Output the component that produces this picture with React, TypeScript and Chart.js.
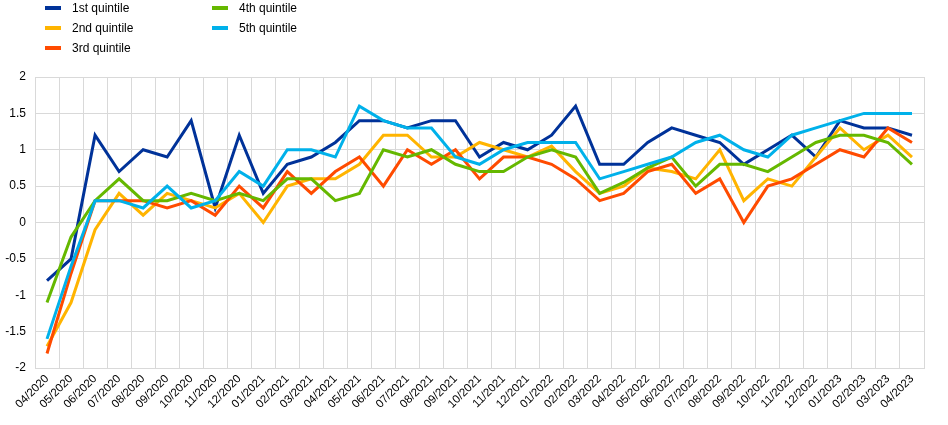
import React, { useEffect, useRef } from "react";
import { Chart, registerables } from "chart.js";

Chart.register(...registerables);

const months = [
  "04/2020","05/2020","06/2020","07/2020","08/2020","09/2020","10/2020","11/2020","12/2020",
  "01/2021","02/2021","03/2021","04/2021","05/2021","06/2021","07/2021","08/2021","09/2021","10/2021","11/2021","12/2021",
  "01/2022","02/2022","03/2022","04/2022","05/2022","06/2022","07/2022","08/2022","09/2022","10/2022","11/2022","12/2022",
  "01/2023","02/2023","03/2023","04/2023",
];

const q1 = [-0.8,-0.5,1.2,0.7,1.0,0.9,1.4,0.2,1.2,0.4,0.8,0.9,1.1,1.4,1.4,1.3,1.4,1.4,0.9,1.1,1.0,1.2,1.6,0.8,0.8,1.1,1.3,1.2,1.1,0.8,1.0,1.2,0.9,1.4,1.3,1.3,1.2];
const q2 = [-1.7,-1.1,-0.1,0.4,0.1,0.4,0.3,0.2,0.4,0.0,0.5,0.6,0.6,0.8,1.2,1.2,0.9,0.9,1.1,1.0,0.9,1.05,0.7,0.4,0.5,0.75,0.7,0.6,1.0,0.3,0.6,0.5,0.9,1.3,1.0,1.2,0.9];
const q3 = [-1.8,-0.7,0.3,0.3,0.3,0.2,0.3,0.1,0.5,0.2,0.7,0.4,0.7,0.9,0.5,1.0,0.8,1.0,0.6,0.9,0.9,0.8,0.6,0.3,0.4,0.7,0.8,0.4,0.6,0.0,0.5,0.6,0.8,1.0,0.9,1.3,1.1];
const q4 = [-1.1,-0.2,0.3,0.6,0.3,0.3,0.4,0.3,0.4,0.3,0.6,0.6,0.3,0.4,1.0,0.9,1.0,0.8,0.7,0.7,0.9,1.0,0.9,0.4,0.55,0.75,0.9,0.5,0.8,0.8,0.7,0.9,1.1,1.2,1.2,1.1,0.8];
const q5 = [-1.6,-0.6,0.3,0.3,0.2,0.5,0.2,0.3,0.7,0.5,1.0,1.0,0.9,1.6,1.4,1.3,1.3,0.9,0.8,1.0,1.1,1.1,1.1,0.6,0.7,0.8,0.9,1.1,1.2,1.0,0.9,1.2,1.3,1.4,1.5,1.5,1.5];

const seriesNames = ["1st quintile", "2nd quintile", "3rd quintile", "4th quintile", "5th quintile"];
const seriesColors = ["#003299", "#FFB400", "#FF4B00", "#65B800", "#00B1EA"];
const seriesData = [q1, q2, q3, q4, q5];

const FONT = "'Liberation Sans', Arial, sans-serif";

export default function App() {
  const canvasRef = useRef<HTMLCanvasElement | null>(null);

  useEffect(() => {
    if (!canvasRef.current) return;
    const chart = new Chart(canvasRef.current, {
      type: "line",
      data: {
        labels: months,
        datasets: seriesData.map((d, i) => ({
          label: seriesNames[i],
          data: d,
          borderColor: seriesColors[i],
          backgroundColor: seriesColors[i],
          borderWidth: 3,
          pointRadius: 0,
          tension: 0,
          fill: false,
          order: 5 - i,
        })),
      },
      options: {
        animation: false,
        responsive: true,
        maintainAspectRatio: false,
        layout: { padding: { top: 77, right: 24, left: 0, bottom: 0 } },
        plugins: {
          legend: { display: false },
          tooltip: { enabled: false },
        },
        scales: {
          x: {
            type: "category",
            offset: true,
            grid: { offset: true, color: "#d9d9d9", drawTicks: false, lineWidth: 1 },
            border: { color: "#d9d9d9" },
            ticks: {
              autoSkip: false,
              minRotation: 45,
              maxRotation: 45,
              padding: 4,
              color: "#000",
              font: { family: FONT, size: 11.5 },
            },
            afterFit: (s: any) => { s.height = 57; },
          },
          y: {
            min: -2,
            max: 2,
            grid: { color: "#d9d9d9", drawTicks: false, lineWidth: 1 },
            border: { color: "#d9d9d9" },
            ticks: {
              stepSize: 0.5,
              padding: 9,
              color: "#000",
              font: { family: FONT, size: 12 },
              callback: (v: any) => String(Math.round(Number(v) * 10) / 10),
            },
            afterFit: (s: any) => { s.width = 35; },
          },
        },
      },
    });
    return () => chart.destroy();
  }, []);

  const legendItem = (i: number, left: number, top: number) => (
    <div key={i} style={{ position: "absolute", left, top, height: 16, display: "flex", alignItems: "center" }}>
      <div style={{ width: 16, height: 4, background: seriesColors[i] }} />
      <span style={{ marginLeft: 11, fontFamily: FONT, fontSize: 12, color: "#000", whiteSpace: "nowrap" }}>
        {seriesNames[i]}
      </span>
    </div>
  );

  return (
    <div style={{ position: "fixed", left: 0, top: 0, width: 948, height: 425, background: "#fff" }}>
      <canvas ref={canvasRef} />
      {legendItem(0, 45, 0)}
      {legendItem(1, 45, 20)}
      {legendItem(2, 45, 40)}
      {legendItem(3, 212, 0)}
      {legendItem(4, 212, 20)}
    </div>
  );
}
